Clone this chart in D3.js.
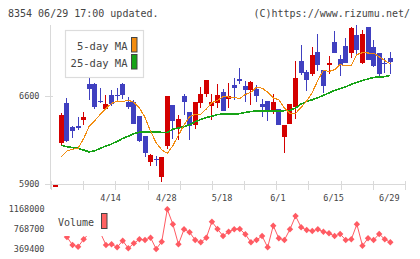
<!DOCTYPE html>
<html>
<head>
<meta charset="utf-8">
<script src="https://cdn.jsdelivr.net/npm/d3@7/dist/d3.min.js"></script>
<style>
  html, body { margin: 0; padding: 0; background: #fff; }
  svg { display: block; }
  text { font-family: "DejaVu Sans Mono", "Liberation Mono", monospace; fill: #444; }
</style>
</head>
<body>
<svg id="chart"></svg>
<script>
// slot 0 is the stray bar at the lower left corner, slots 1..60 are trading days
var openVals = [5892,
  6229, 6544, 6351, 6361, 6409, 6696, 6696, 6563, 6494, 6608,
  6610, 6696, 6552, 6552, 6441, 6282, 6078, 6099, 5958, 6205,
  6528, 6343, 6600, 6473, 6369, 6544, 6616, 6523, 6542, 6632,
  6579, 6688, 6735, 6680, 6648, 6656, 6536, 6560, 6489, 6497,
  6277, 6377, 6510, 6878, 6791, 6775, 6950, 6808, 6847, 7031,
  6894, 6998, 6942, 7085, 6863, 7149, 6990, 6942, 6863, 6902];
var highVals = [5892,
  6465, 6587, 6361, 6430, 6475, 6741, 6706, 6661, 6608, 6648,
  6661, 6706, 6589, 6568, 6441, 6282, 6139, 6123, 6115, 6600,
  6528, 6449, 6616, 6473, 6552, 6672, 6730, 6616, 6696, 6656,
  6703, 6743, 6823, 6719, 6719, 6688, 6576, 6560, 6616, 6497,
  6369, 6536, 6878, 7007, 6808, 6990, 7093, 6808, 6918, 7117,
  6926, 7061, 7149, 7165, 7125, 7149, 7046, 6942, 6902, 6950];
var lowVals = [5892,
  6205, 6237, 6263, 6330, 6369, 6568, 6497, 6542, 6489, 6521,
  6555, 6576, 6494, 6375, 6234, 6112, 6046, 6046, 5919, 6181,
  6255, 6250, 6452, 6250, 6338, 6502, 6595, 6409, 6505, 6483,
  6505, 6568, 6696, 6552, 6528, 6552, 6436, 6404, 6457, 6369,
  6149, 6377, 6420, 6767, 6640, 6759, 6799, 6624, 6775, 6942,
  6759, 6863, 6902, 6934, 6855, 6887, 6831, 6743, 6783, 6775];
var closeVals = [5892,
  6449, 6245, 6319, 6356, 6433, 6658, 6513, 6550, 6536, 6539,
  6598, 6605, 6510, 6377, 6245, 6144, 6131, 6088, 6115, 6600,
  6404, 6417, 6550, 6361, 6552, 6616, 6727, 6552, 6608, 6483,
  6600, 6666, 6722, 6648, 6711, 6600, 6515, 6473, 6552, 6369,
  6369, 6536, 6743, 6783, 6727, 6926, 6847, 6680, 6863, 6942,
  6847, 6863, 7141, 6966, 7093, 6887, 6839, 6775, 6855, 6871];

var ma5Vals = [null,
  6117, 6163, 6176, 6184, 6262, 6360, 6405, 6455, 6502, 6540,
  6560, 6556, 6566, 6550, 6505, 6430, 6320, 6228, 6172, 6144,
  6205, 6288, 6370, 6435, 6455, 6455, 6497, 6548, 6565, 6595,
  6592, 6588, 6580, 6612, 6630, 6669, 6662, 6632, 6585, 6569,
  6506, 6462, 6461, 6510, 6561, 6628, 6725, 6805, 6795, 6809,
  6850, 6840, 6843, 6930, 6945, 6942, 6940, 6912, 6882, 6855];
var ma25Vals = [null,
  6207, 6197, 6189, 6184, 6170, 6155, 6165, 6184, 6202, 6218,
  6239, 6262, 6280, 6300, 6312, 6316, 6314, 6312, 6311, 6311,
  6337, 6345, 6356, 6372, 6395, 6413, 6428, 6440, 6452, 6457,
  6457, 6455, 6460, 6470, 6476, 6482, 6483, 6483, 6483, 6483,
  6483, 6486, 6505, 6536, 6556, 6570, 6586, 6606, 6624, 6645,
  6658, 6674, 6692, 6709, 6724, 6735, 6748, 6751, 6754, 6764];
var volumeVals = [null,
  791800, 610800, 449900, 415700, 564500, 690000, 720000, 695000, 449900, 463900,
  403600, 536400, 383500, 484000, 564500, 550400, 596700, 369400, 516200, 1168000,
  866200, 463900, 765700, 705300, 550400, 504100, 596700, 918500, 771700, 630900,
  717400, 765700, 771700, 665100, 504100, 550400, 630900, 403600, 838100, 584600,
  550400, 765700, 1033200, 805900, 751600, 731500, 765700, 717400, 685200, 630900,
  671100, 550400, 564500, 866200, 435800, 584600, 550400, 671100, 564500, 504100];

var dateLabels = ['4/14', '4/28', '5/18', '6/1', '6/15', '6/29'];
var dateSlots = [10, 20, 30, 40, 50, 60];
var priceTicks = [5900, 6600];
var volumeTicks = [369400, 768700, 1168000];

var W = 420, H = 259;
var RED = '#d40000', BLUE = '#4040c0', ORANGE = '#f28c0f', GREEN = '#17a317', VOL = '#ff5a62', GRID = '#d9d9d9';

var svg = d3.select('#chart').attr('width', W).attr('height', H);
svg.append('rect').attr('width', W).attr('height', H).attr('fill', '#fff');

var x = d3.scaleLinear().domain([-0.86, 62.63]).range([51, 405]);
var y = d3.scaleLinear().domain([5900, 6600]).range([184, 96]);
var yv = d3.scaleLinear().domain([369400, 1168000]).range([249, 209.3]);

// header texts
svg.append('text').attr('x', 8).attr('y', 16.5).attr('font-size', 10).text('8354 06/29 17:00 updated.');
svg.append('text').attr('x', 410).attr('y', 16.5).attr('font-size', 10).attr('text-anchor', 'end').text('(C)https://www.rizumu.net/');

// frame lines
var axes = svg.append('g').attr('shape-rendering', 'crispEdges').attr('stroke', GRID);
axes.append('line').attr('x1', 50.5).attr('x2', 50.5).attr('y1', 25).attr('y2', 189);
axes.append('line').attr('x1', 51).attr('x2', 405).attr('y1', 184.5).attr('y2', 184.5);
var gx = d3.scaleLinear().domain([0, 11]).range([51, 405]);
axes.selectAll('line.vt').data(d3.range(12)).enter().append('line')
    .attr('class', 'vt')
    .attr('x1', function(d) { return Math.round(gx(d)) + 0.5; })
    .attr('x2', function(d) { return Math.round(gx(d)) + 0.5; })
    .attr('y1', 181).attr('y2', 190);
axes.selectAll('line.ht').data(priceTicks).enter().append('line')
    .attr('class', 'ht')
    .attr('x1', 45).attr('x2', 53)
    .attr('y1', function(d) { return Math.round(y(d)) + 0.5; })
    .attr('y2', function(d) { return Math.round(y(d)) + 0.5; });

svg.selectAll('text.py').data(priceTicks).enter().append('text')
    .attr('class', 'py').attr('font-size', 8.5).attr('text-anchor', 'end')
    .attr('x', 39.5).attr('y', function(d) { return y(d) + 3; })
    .text(function(d) { return d; });

svg.selectAll('text.dx').data(dateLabels).enter().append('text')
    .attr('class', 'dx').attr('font-size', 8.5).attr('text-anchor', 'middle')
    .attr('x', function(d, i) { return x(dateSlots[i]) - 1; })
    .attr('y', 200.5)
    .text(function(d) { return d; });

svg.selectAll('text.vy').data(volumeTicks).enter().append('text')
    .attr('class', 'vy').attr('font-size', 8.5).attr('text-anchor', 'end')
    .attr('x', 44.5).attr('y', function(d) { return yv(d) + 3; })
    .text(function(d) { return d; });

// candles
var slots = d3.range(openVals.length);
var candles = svg.append('g').attr('shape-rendering', 'crispEdges');
candles.selectAll('rect.wick').data(slots).enter().append('rect')
    .attr('class', 'wick')
    .attr('x', function(i) { return Math.floor(x(i)); })
    .attr('width', 1)
    .attr('y', function(i) { return y(highVals[i]); })
    .attr('height', function(i) { return Math.max(1, y(lowVals[i]) - y(highVals[i])); })
    .attr('fill', function(i) { return closeVals[i] >= openVals[i] ? RED : BLUE; });
candles.selectAll('rect.body').data(slots).enter().append('rect')
    .attr('class', 'body')
    .attr('x', function(i) { return Math.round(x(i) - 2.5); })
    .attr('width', 5)
    .attr('y', function(i) { return Math.min(y(openVals[i]), y(closeVals[i])); })
    .attr('height', function(i) { return Math.max(1.5, Math.abs(y(openVals[i]) - y(closeVals[i]))); })
    .attr('fill', function(i) { return closeVals[i] >= openVals[i] ? RED : BLUE; });

// moving averages
var maLine = function(vals) {
    return d3.line()
        .defined(function(i) { return vals[i] !== null; })
        .x(function(i) { return x(i); })
        .y(function(i) { return y(vals[i]); });
};
svg.append('path').datum(slots).attr('d', maLine(ma25Vals))
    .attr('fill', 'none').attr('stroke', GREEN).attr('stroke-width', 1.6)
    .attr('shape-rendering', 'crispEdges');
svg.append('path').datum(slots).attr('d', maLine(ma5Vals))
    .attr('fill', 'none').attr('stroke', ORANGE).attr('stroke-width', 1.1)
    .attr('shape-rendering', 'crispEdges');

// MA legend
var leg = svg.append('g');
leg.append('rect').attr('x', 65.5).attr('y', 30.5).attr('width', 78).attr('height', 47)
    .attr('fill', '#fff').attr('stroke', '#dcdcdc').attr('stroke-width', 1.2);
leg.append('text').attr('x', 127.5).attr('y', 49.5).attr('font-size', 10.5).attr('text-anchor', 'end').text('5-day MA');
leg.append('text').attr('x', 127.5).attr('y', 66.5).attr('font-size', 10.5).attr('text-anchor', 'end').text('25-day MA');
leg.append('rect').attr('x', 131.5).attr('y', 37.5).attr('width', 5.5).attr('height', 14.5)
    .attr('fill', ORANGE).attr('stroke', '#444');
leg.append('rect').attr('x', 131.5).attr('y', 54.5).attr('width', 5.5).attr('height', 14.5)
    .attr('fill', GREEN).attr('stroke', '#444');

// volume
var volSlots = slots.filter(function(i) { return volumeVals[i] !== null; });
svg.append('path').datum(volSlots)
    .attr('d', d3.line().x(function(i) { return x(i); }).y(function(i) { return yv(volumeVals[i]); }))
    .attr('fill', 'none').attr('stroke', VOL).attr('stroke-width', 1);
svg.selectAll('path.vm').data(volSlots).enter().append('path')
    .attr('class', 'vm')
    .attr('d', d3.symbol().type(d3.symbolDiamond2).size(26))
    .attr('transform', function(i) { return 'translate(' + x(i) + ',' + yv(volumeVals[i]) + ')'; })
    .attr('fill', VOL);

// volume legend sits on top of the first points
var vleg = svg.append('g');
vleg.append('rect').attr('x', 52).attr('y', 203).attr('width', 60).attr('height', 33).attr('fill', '#fff');
vleg.append('text').attr('x', 58).attr('y', 225.5).attr('font-size', 10).text('Volume');
vleg.append('rect').attr('x', 101.5).attr('y', 213.5).attr('width', 5.5).attr('height', 15)
    .attr('fill', '#ff6262').attr('stroke', '#444');
</script>
</body>
</html>
